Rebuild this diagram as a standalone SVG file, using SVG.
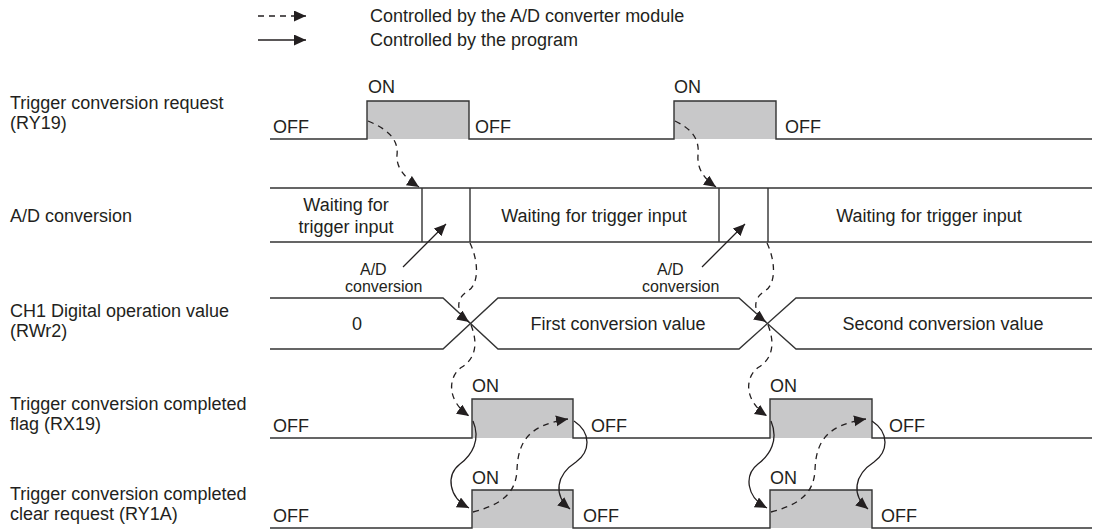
<svg xmlns="http://www.w3.org/2000/svg" width="1107" height="530" viewBox="0 0 1107 530">
<defs>
<style>
text{font-family:"Liberation Sans",Arial,sans-serif;font-size:18px;fill:#231f20}
.sm{font-size:16px}
.mid{text-anchor:middle}
.ln{fill:none;stroke:#333;stroke-width:1.4}
.pulse{fill:#c8c8c9;stroke:none}
.dash{fill:none;stroke:#231f20;stroke-width:1.3;stroke-dasharray:6,5}
.sol{fill:none;stroke:#231f20;stroke-width:1.3}
</style>
<marker id="ah" markerUnits="userSpaceOnUse" markerWidth="16" markerHeight="14" refX="12" refY="5.5" orient="auto">
<path d="M0,0 L12,5.5 L0,11 z" fill="#231f20"/>
</marker>
</defs>
<rect width="1107" height="530" fill="#fff"/>

<g id="legend">
<line x1="258" y1="16" x2="306" y2="16" class="dash" marker-end="url(#ah)"/>
<text x="370" y="22">Controlled by the A/D converter module</text>
<line x1="258" y1="40" x2="306" y2="40" class="sol" marker-end="url(#ah)"/>
<text x="370" y="46">Controlled by the program</text>
</g>

<g id="labels">
<text x="10" y="109">Trigger conversion request</text>
<text x="10" y="129">(RY19)</text>
<text x="10" y="222">A/D conversion</text>
<text x="10" y="317">CH1 Digital operation value</text>
<text x="10" y="337">(RWr2)</text>
<text x="10" y="410">Trigger conversion completed</text>
<text x="10" y="430">flag (RX19)</text>
<text x="10" y="500">Trigger conversion completed</text>
<text x="10" y="520">clear request (RY1A)</text>
</g>

<g id="row-trigger-request">
<rect class="pulse" x="367" y="101" width="102" height="38"/>
<rect class="pulse" x="674" y="101" width="102" height="38"/>
<path class="ln" d="M270,139 H367 V101 H469 V139 H674 V101 H776 V139 H1092"/>
<text x="273" y="133">OFF</text>
<text x="368" y="93">ON</text>
<text x="475" y="133">OFF</text>
<text x="674" y="93">ON</text>
<text x="785" y="133">OFF</text>
</g>

<g id="row-ad-conversion">
<path class="ln" d="M270,188 H1092 M270,242 H1092 M422,188 V242 M470,188 V242 M719,188 V242 M768,188 V242"/>
<text x="346" y="211" class="mid">Waiting for</text>
<text x="346" y="233" class="mid">trigger input</text>
<text x="594" y="222" class="mid">Waiting for trigger input</text>
<text x="929" y="222" class="mid">Waiting for trigger input</text>
</g>

<g id="ad-note-1">
<text x="360" y="275" class="sm">A/D</text>
<text x="345" y="292" class="sm">conversion</text>
</g>
<g id="ad-note-2">
<text x="657" y="275" class="sm">A/D</text>
<text x="642" y="292" class="sm">conversion</text>
</g>

<g id="row-digital-value">
<path class="ln" d="M270,298 H443 L498,349 H739 L796,298 H1092"/>
<path class="ln" d="M270,349 H443 L498,298 H739 L796,349 H1092"/>
<text x="357" y="330" class="mid">0</text>
<text x="618" y="330" class="mid">First conversion value</text>
<text x="943" y="330" class="mid">Second conversion value</text>
</g>

<g id="row-completed-flag">
<rect class="pulse" x="472" y="399" width="101" height="39"/>
<rect class="pulse" x="770" y="399" width="102" height="39"/>
<path class="ln" d="M270,438 H472 V399 H573 V438 H770 V399 H872 V438 H1092"/>
<text x="273" y="432">OFF</text>
<text x="472" y="392">ON</text>
<text x="591" y="432">OFF</text>
<text x="770" y="392">ON</text>
<text x="889" y="432">OFF</text>
</g>

<g id="row-clear-request">
<rect class="pulse" x="472" y="490" width="101" height="38"/>
<rect class="pulse" x="770" y="490" width="102" height="38"/>
<path class="ln" d="M270,528 H472 V490 H573 V528 H770 V490 H872 V528 H1092"/>
<text x="273" y="522">OFF</text>
<text x="472" y="484">ON</text>
<text x="583" y="522">OFF</text>
<text x="770" y="484">ON</text>
<text x="881" y="522">OFF</text>
</g>

<g id="connectors">
<path class="sol" d="M403,267 L446,224" marker-end="url(#ah)"/>
<path class="sol" d="M702,267 L745,224" marker-end="url(#ah)"/>

<path class="dash" d="M368,121 C385,128 399,138 397,155 C396,168 405,178 419,187" marker-end="url(#ah)"/>
<path class="dash" d="M470,243 C478,260 480,283 468,291 C456,298 455,312 469,322" marker-end="url(#ah)"/>
<path class="dash" d="M471,325 C478,343 476,358 462,367 C448,376 446,400 469,416" marker-end="url(#ah)"/>
<path class="sol" d="M473,421 C481,440 472,455 460,464 C446,475 448,497 469,508" marker-end="url(#ah)"/>
<path class="dash" d="M473,512 C500,505 516,494 517,470 C518,440 530,425 568,419" marker-end="url(#ah)"/>
<path class="sol" d="M574,421 C592,433 590,452 576,462 C556,475 553,495 570,509" marker-end="url(#ah)"/>

<path class="dash" d="M675,121 C690,128 700,138 698,155 C697,168 703,178 716,187" marker-end="url(#ah)"/>
<path class="dash" d="M767,243 C775,260 777,283 765,291 C753,298 752,312 766,322" marker-end="url(#ah)"/>
<path class="dash" d="M768,325 C775,343 773,358 759,367 C745,376 743,400 767,416" marker-end="url(#ah)"/>
<path class="sol" d="M771,421 C779,440 770,455 758,464 C744,475 746,497 767,508" marker-end="url(#ah)"/>
<path class="dash" d="M771,512 C798,505 814,494 815,470 C816,440 828,425 866,419" marker-end="url(#ah)"/>
<path class="sol" d="M872,421 C890,433 888,452 874,462 C854,475 851,495 868,509" marker-end="url(#ah)"/>
</g>
</svg>
